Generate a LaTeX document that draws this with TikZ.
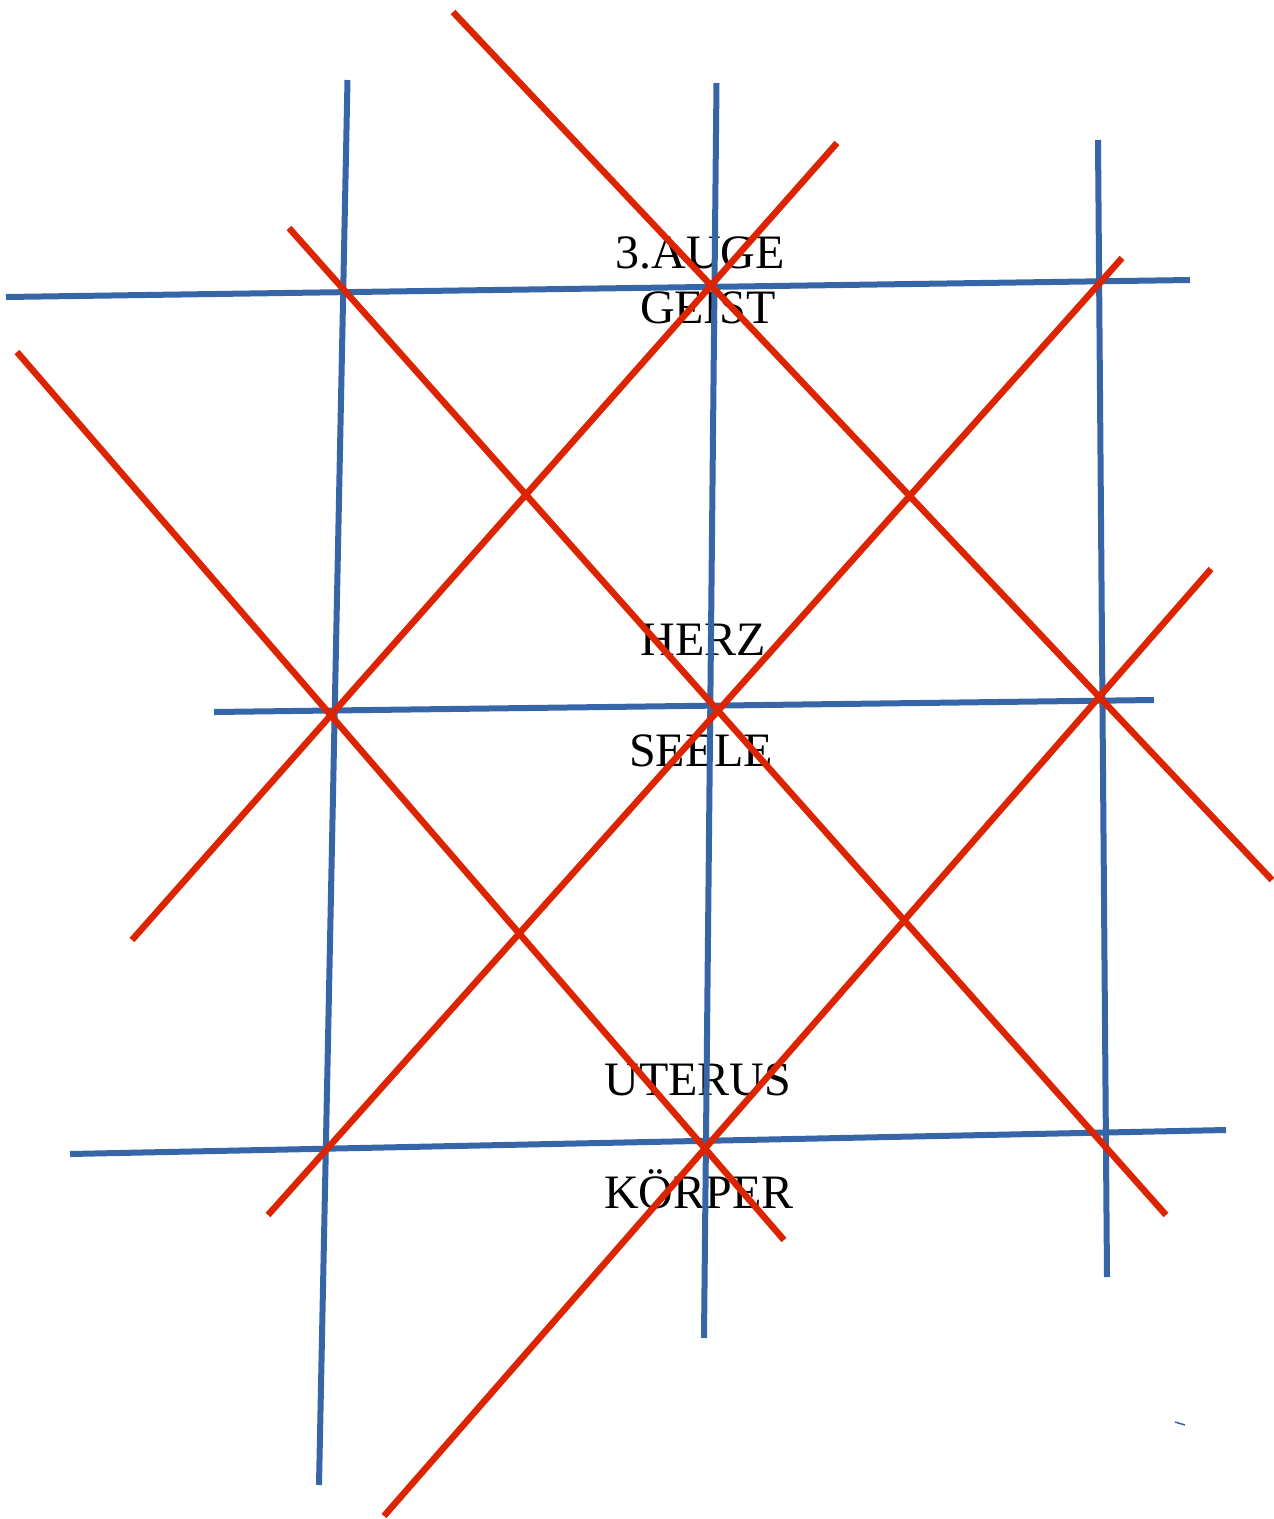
\documentclass[tikz,border=0pt]{standalone}
\usepackage{fontspec}
\setmainfont{Liberation Serif}
\definecolor{gridblue}{RGB}{54,102,168}
\definecolor{gridred}{RGB}{220,36,0}
\begin{document}
\begin{tikzpicture}[x=1pt,y=-1pt,
  lbl/.style={inner sep=0pt,anchor=base,font=\fontsize{48}{58}\selectfont},
  bline/.style={draw=gridblue,line width=6pt},
  rline/.style={draw=gridred,line width=6.5pt}]
\useasboundingbox (0,0) rectangle (1274,1519);
% labels
\node[lbl] (auge) at (700,268) {3.AUGE};
\node[lbl] (geist) at (708,323) {GEIST};
\node[lbl] (herz) at (703,655) {HERZ};
\node[lbl] (seele) at (701,766) {SEELE};
\node[lbl] (uterus) at (698,1095) {UTERUS};
\node[lbl] (koerper) at (699,1208) {KÖRPER};
% blue grid
\coordinate (v1a) at (347.5,80);  \coordinate (v1b) at (319,1485);
\coordinate (v2a) at (716.5,83);  \coordinate (v2b) at (704,1338);
\coordinate (v3a) at (1098,140);  \coordinate (v3b) at (1107,1277);
\coordinate (h1a) at (6,297);     \coordinate (h1b) at (1190,280);
\coordinate (h2a) at (214,712);   \coordinate (h2b) at (1154,700);
\coordinate (h3a) at (70,1154);   \coordinate (h3b) at (1226,1130);
\draw[bline] (v1a) -- (v1b);
\draw[bline] (v2a) -- (v2b);
\draw[bline] (v3a) -- (v3b);
\draw[bline] (h1a) -- (h1b);
\draw[bline] (h2a) -- (h2b);
\draw[bline] (h3a) -- (h3b);
% red diagonals
\coordinate (r1a) at (453,12);    \coordinate (r1b) at (1272,880);
\coordinate (r2a) at (289,228);   \coordinate (r2b) at (1166,1215);
\coordinate (r3a) at (17,352);    \coordinate (r3b) at (784,1240);
\coordinate (r4a) at (837,143);   \coordinate (r4b) at (132,940);
\coordinate (r5a) at (1122,258);  \coordinate (r5b) at (268,1215);
\coordinate (r6a) at (1211,569);  \coordinate (r6b) at (384,1516);
\draw[rline] (r1a) -- (r1b);
\draw[rline] (r2a) -- (r2b);
\draw[rline] (r3a) -- (r3b);
\draw[rline] (r4a) -- (r4b);
\draw[rline] (r5a) -- (r5b);
\draw[rline] (r6a) -- (r6b);
% tiny stray mark
\coordinate (ma) at (1175,1422); \coordinate (mb) at (1185,1425);
\draw[draw=gridblue,line width=1.5pt] (ma) -- (mb);
\end{tikzpicture}
\end{document}
